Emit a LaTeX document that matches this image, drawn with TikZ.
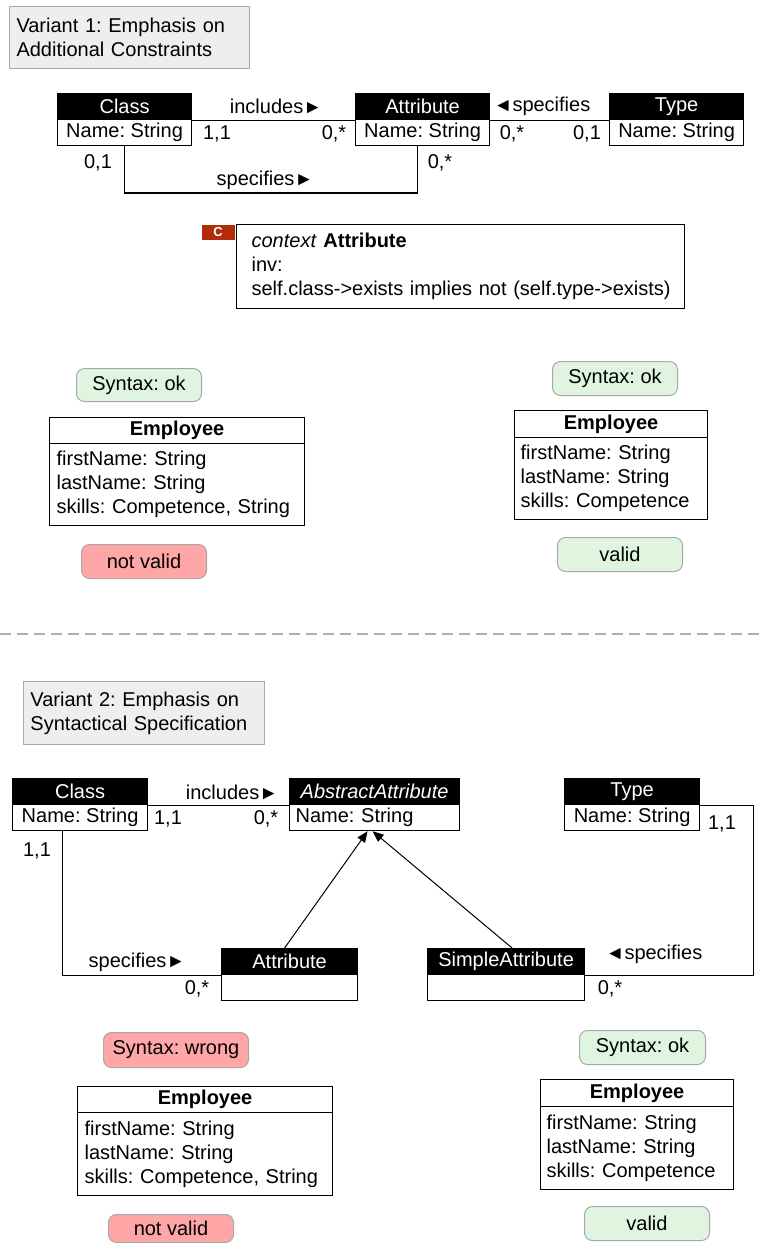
\documentclass[tikz,border=0pt]{standalone}
\usepackage{fontspec}
\setmainfont{Liberation Sans}
\usetikzlibrary{arrows.meta}
\definecolor{okfill}{HTML}{DFF5DF}
\definecolor{badfill}{HTML}{FFA6A6}
\definecolor{boxgray}{HTML}{A8A8A8}
\definecolor{titlefill}{HTML}{EEEEEE}
\definecolor{ctag}{HTML}{B02C0A}
\definecolor{dashgray}{HTML}{B0B0B0}
\frenchspacing
\newcommand{\rtri}{{\fontsize{19}{19}\selectfont►}}
\newcommand{\ltri}{{\fontsize{19}{19}\selectfont◄}}
\begin{document}
\begin{tikzpicture}[x=1pt,y=-1pt, font=\fontsize{20}{24}\selectfont, line width=1.2pt,
  hdr/.style={draw=black, fill=black, text=white, minimum height=26pt, inner sep=0pt, anchor=north west},
  bodyb/.style={draw=black, fill=white, minimum height=26pt, inner sep=0pt, anchor=north west},
  lbl/.style={inner sep=0pt},
  pill/.style={draw=boxgray, rounded corners=8pt, inner sep=0pt, anchor=north west, line width=1pt},
  okbox/.style={pill, fill=okfill},
  badbox/.style={pill, fill=badfill},
  titlebox/.style={draw=boxgray, fill=titlefill, anchor=north west, align=left, inner xsep=7pt, inner ysep=0pt, line width=1pt},
  emphead/.style={draw=black, fill=white, anchor=north west, inner sep=0pt, font=\fontsize{20}{24}\selectfont\bfseries},
  empbody/.style={draw=black, fill=white, anchor=north west, align=left, inner ysep=0pt},
  assoc/.style={draw=black, line width=1.2pt},
  gen/.style={draw=black, line width=1pt, -{Triangle[length=11pt,width=9pt]}},
]
\useasboundingbox (0,0) rectangle (763,1243);

% ---------------- Variant 1 ----------------
\node[titlebox, text width=226pt, minimum height=62pt] (t1) at (9,6) {Variant 1: Emphasis on\\Additional Constraints};

\node[hdr, minimum width=134pt] (c1h) at (57,93) {Class};
\node[bodyb, minimum width=134pt] (c1b) at (57,119) {Name: String};
\node[hdr, minimum width=134pt] (a1h) at (355,93) {Attribute};
\node[bodyb, minimum width=134pt] (a1b) at (355,119) {Name: String};
\node[hdr, minimum width=134pt] (y1h) at (609,93) {Type};
\node[bodyb, minimum width=134pt] (y1b) at (609,119) {Name: String};

\draw[assoc] (c1h.south east) -- (a1h.south west);
\draw[assoc] (a1h.south east) -- (y1h.south west);
\draw[assoc] (c1b.south) -- (c1b.south |- 0,193) -| ([xshift=-5pt]a1b.south);

\node[lbl] (l1) at (276,106) {includes\rtri};
\node[lbl] (l2) at (217,134) {1,1};
\node[lbl] (l3) at (334,134) {0,*};
\node[lbl] (l4) at (542,106) {\ltri specifies};
\node[lbl] (l5) at (512,134) {0,*};
\node[lbl] (l6) at (587,134) {0,1};
\node[lbl] (l7) at (98,163) {0,1};
\node[lbl] (l8) at (265,180) {specifies\rtri};
\node[lbl] (l9) at (440,163) {0,*};

\node[draw=black, anchor=north west, text width=418pt, minimum height=84pt, inner xsep=15pt, inner ysep=0pt, align=left] (ocl) at (236,224)
  {\textit{context} \textbf{Attribute}\\inv:\\\mbox{self.class->exists implies not (self.type->exists)}};
\node[fill=ctag, anchor=north west, minimum width=33pt, minimum height=15pt, inner sep=0pt, text=white, font=\fontsize{13}{13}\selectfont\bfseries] (ctg) at (201,224) {C};

% left example
\node[okbox, minimum width=125pt, minimum height=33pt] (s1) at (76,368) {Syntax: ok};
\node[emphead, minimum width=255pt, minimum height=26pt] (e1h) at (49,417) {Employee};
\node[empbody, text width=241pt, inner xsep=7pt, minimum height=82pt] (e1b) at (49,443) {firstName: String\\lastName: String\\skills: Competence, String};
\node[badbox, minimum width=125pt, minimum height=34pt] (v1) at (81,544) {not valid};

% right example
\node[okbox, minimum width=125pt, minimum height=34pt] (s2) at (552,361) {Syntax: ok};
\node[emphead, minimum width=193pt, minimum height=27pt] (e2h) at (514,410) {Employee};
\node[empbody, text width=181pt, inner xsep=6pt, minimum height=82pt] (e2b) at (514,437) {firstName: String\\lastName: String\\skills: Competence};
\node[okbox, minimum width=125pt, minimum height=34pt] (v2) at (557,537) {valid};

% separator
\coordinate (sepL) at (0,634);
\coordinate (sepR) at (763,634);
\draw[dashgray, line width=1.6pt, dash pattern=on 11pt off 6pt] (sepL) -- (sepR);

% ---------------- Variant 2 ----------------
\node[titlebox, text width=227pt, minimum height=63pt] (t2) at (23,681) {Variant 2: Emphasis on\\Syntactical Specification};

\node[hdr, minimum width=135pt] (c2h) at (12,778) {Class};
\node[bodyb, minimum width=135pt] (c2b) at (12,804) {Name: String};
\node[hdr, minimum width=170pt] (aa2h) at (289,778) {\textit{AbstractAttribute}};
\node[bodyb, minimum width=170pt, text width=158pt, inner xsep=6pt, align=left] (aa2b) at (289,804) {Name: String};
\node[hdr, minimum width=135pt] (y2h) at (564,778) {Type};
\node[bodyb, minimum width=135pt] (y2b) at (564,804) {Name: String};
\node[hdr, minimum width=136pt] (at2h) at (221,948) {Attribute};
\node[bodyb, minimum width=136pt] (at2b) at (221,974) {};
\node[hdr, minimum width=157pt] (sa2h) at (427,948) {SimpleAttribute};
\node[bodyb, minimum width=157pt] (sa2b) at (427,974) {};

\draw[assoc] (c2h.south east) -- (aa2h.south west);
\draw[assoc] ([xshift=-18pt]c2b.south) |- (at2h.south west);
\draw[assoc] (y2h.south east) -- ++(53,0) |- (sa2h.south east);
\draw[gen] ([xshift=-5pt]at2h.north) -- ([xshift=-7pt]aa2b.south);
\draw[gen] ([xshift=6pt]sa2h.north) -- ([xshift=-2pt]aa2b.south);

\node[lbl] (m1) at (232,792) {includes\rtri};
\node[lbl] (m2) at (168,819) {1,1};
\node[lbl] (m3) at (266,819) {0,*};
\node[lbl] (m4) at (37,851) {1,1};
\node[lbl] (m5) at (137,962) {specifies\rtri};
\node[lbl] (m6) at (197,989) {0,*};
\node[lbl] (m7) at (654,954) {\ltri specifies};
\node[lbl] (m8) at (610,989) {0,*};
\node[lbl] (m9) at (722,824) {1,1};

% left example
\node[badbox, minimum width=145pt, minimum height=35pt] (s3) at (103,1032) {Syntax: wrong};
\node[emphead, minimum width=255pt, minimum height=26pt] (e3h) at (77,1086) {Employee};
\node[empbody, text width=241pt, inner xsep=7pt, minimum height=83pt] (e3b) at (77,1112) {firstName: String\\lastName: String\\skills: Competence, String};
\node[badbox, minimum width=125pt, minimum height=28pt] (v3) at (108,1214) {not valid};

% right example
\node[okbox, minimum width=126pt, minimum height=34pt] (s4) at (579,1030) {Syntax: ok};
\node[emphead, minimum width=193pt, minimum height=27pt] (e4h) at (540,1079) {Employee};
\node[empbody, text width=181pt, inner xsep=6pt, minimum height=83pt] (e4b) at (540,1106) {firstName: String\\lastName: String\\skills: Competence};
\node[okbox, minimum width=125pt, minimum height=34pt] (v4) at (584,1206) {valid};
\end{tikzpicture}
\end{document}
